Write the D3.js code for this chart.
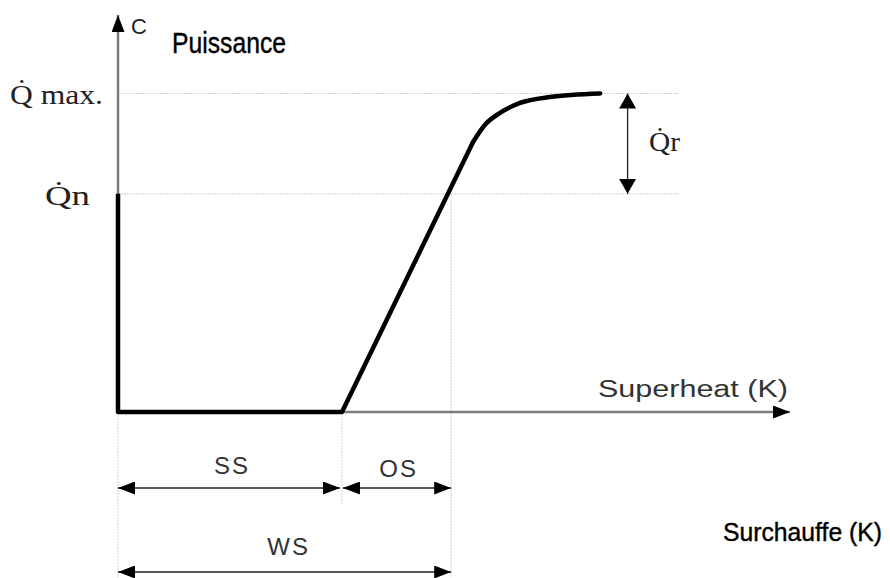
<!DOCTYPE html>
<html>
<head>
<meta charset="utf-8">
<script src="https://cdn.jsdelivr.net/npm/d3@7"></script>
<style>
  body { margin: 0; background: #fff; }
  svg { display: block; }
</style>
</head>
<body>
<div id="chart"></div>
<script>
// superheat (K) / capacity characteristic of an expansion valve
var rampX = [0, 0, 4.0, 6.34];
var rampY = [1, 0, 0, 1.238];
var kneeX = [6.34, 6.55, 6.82, 7.18, 7.71, 8.61];
var kneeY = [1.238, 1.316, 1.371, 1.417, 1.444, 1.46];

var qn = 1, qmax = 1.46;
var ss = 4.0, ws = 5.95;
var xMax = 12, yMax = 1.82;
var refEnd = 10, qrAt = 9.1;

var svg = d3.select("#chart").append("svg")
    .attr("width", 890)
    .attr("height", 578);

var x = d3.scaleLinear().domain([0, xMax]).range([118, 790]);
var y = d3.scaleLinear().domain([0, yMax]).range([412, 15]);

// arrowheads
var defs = svg.append("defs");
function head(id, w, h) {
    defs.append("marker")
        .attr("id", id)
        .attr("viewBox", "0 0 " + w + " " + h)
        .attr("refX", w).attr("refY", h / 2)
        .attr("markerWidth", w).attr("markerHeight", h)
        .attr("markerUnits", "userSpaceOnUse")
        .attr("orient", "auto-start-reverse")
        .append("path")
        .attr("d", "M0,0L" + w + "," + (h / 2) + "L0," + h + "Z")
        .attr("fill", "#000");
}
head("axisHead", 17, 13);
head("dimHead", 17, 13);
head("qrHead", 15, 17);

// dotted reference lines
var dot = svg.append("g")
    .attr("stroke", "#cfcfcf")
    .attr("stroke-width", 1)
    .attr("stroke-dasharray", "2,1");

[qmax, qn].forEach(function (v) {
    dot.append("line")
        .attr("x1", x(0)).attr("x2", x(refEnd))
        .attr("y1", y(v)).attr("y2", y(v));
});
dot.append("line").attr("x1", x(0)).attr("x2", x(0)).attr("y1", y(0)).attr("y2", 578);
dot.append("line").attr("x1", x(ss)).attr("x2", x(ss)).attr("y1", y(0)).attr("y2", 505);
dot.append("line").attr("x1", x(ws)).attr("x2", x(ws)).attr("y1", y(qn)).attr("y2", 578);

// axes
svg.append("line")
    .attr("x1", x(0)).attr("y1", y(0))
    .attr("x2", x(0)).attr("y2", y(yMax))
    .attr("stroke", "#7d7d7d").attr("stroke-width", 2.5)
    .attr("marker-end", "url(#axisHead)");
svg.append("line")
    .attr("x1", x(0)).attr("y1", y(0))
    .attr("x2", x(xMax)).attr("y2", y(0))
    .attr("stroke", "#7d7d7d").attr("stroke-width", 2.5)
    .attr("marker-end", "url(#axisHead)");

// characteristic curve
var lineLin = d3.line()
    .x(function (d) { return x(d[0]); })
    .y(function (d) { return y(d[1]); });
var lineSmooth = d3.line()
    .x(function (d) { return x(d[0]); })
    .y(function (d) { return y(d[1]); })
    .curve(d3.curveMonotoneX);

svg.append("path")
    .datum(d3.zip(rampX, rampY))
    .attr("d", lineLin)
    .attr("fill", "none").attr("stroke", "#000")
    .attr("stroke-width", 4.5).attr("stroke-linejoin", "round");
svg.append("path")
    .datum(d3.zip(kneeX, kneeY))
    .attr("d", lineSmooth)
    .attr("fill", "none").attr("stroke", "#000")
    .attr("stroke-width", 4.5).attr("stroke-linecap", "round");

// dimension arrows
function dim(x1, x2, yy) {
    svg.append("line")
        .attr("x1", x1).attr("x2", x2).attr("y1", yy).attr("y2", yy)
        .attr("stroke", "#222").attr("stroke-width", 1.3)
        .attr("marker-start", "url(#dimHead)")
        .attr("marker-end", "url(#dimHead)");
}
dim(x(0), x(ss) - 2, 488);
dim(x(ss) + 1, x(ws), 488);
dim(x(0), x(ws), 572);

svg.append("line")
    .attr("x1", x(qrAt)).attr("x2", x(qrAt))
    .attr("y1", y(qmax)).attr("y2", y(qn))
    .attr("stroke", "#222").attr("stroke-width", 1.3)
    .attr("marker-start", "url(#qrHead)")
    .attr("marker-end", "url(#qrHead)");

// texts
var sans = "'Liberation Sans', Arial, sans-serif";
var narrow = "'Liberation Sans Narrow', 'Arial Narrow', 'Liberation Sans', sans-serif";
var serif = "'Liberation Serif', 'Times New Roman', serif";

svg.append("text").text("C")
    .attr("x", 131).attr("y", 34)
    .attr("font-family", sans).attr("font-size", 22).attr("fill", "#222");

svg.append("text").text("Puissance")
    .attr("x", 172).attr("y", 53)
    .attr("font-family", narrow).attr("font-size", 29).attr("fill", "#000")
    .attr("stroke", "#000").attr("stroke-width", 0.4)
    .attr("textLength", 114).attr("lengthAdjust", "spacingAndGlyphs");

svg.append("text").text("Surchauffe (K)")
    .attr("x", 723).attr("y", 541)
    .attr("font-family", sans).attr("font-size", 25.5).attr("fill", "#000")
    .attr("stroke", "#000").attr("stroke-width", 0.4)
    .attr("textLength", 159).attr("lengthAdjust", "spacingAndGlyphs");

svg.append("text").text("Superheat (K)")
    .attr("x", 598).attr("y", 397)
    .attr("font-family", sans).attr("font-size", 23).attr("fill", "#333")
    .attr("textLength", 190).attr("lengthAdjust", "spacingAndGlyphs");

var serifText = svg.append("g")
    .attr("font-family", serif).attr("font-size", 27).attr("fill", "#222");
serifText.append("text").text("Q\u0307 max.")
    .attr("x", 10).attr("y", y(qmax) + 10)
    .attr("textLength", 93).attr("lengthAdjust", "spacingAndGlyphs");
serifText.append("text").text("Q\u0307n")
    .attr("x", 45).attr("y", y(qn) + 11)
    .attr("textLength", 45).attr("lengthAdjust", "spacingAndGlyphs");
serifText.append("text").text("Q\u0307r")
    .attr("x", 649).attr("y", 151)
    .attr("textLength", 31).attr("lengthAdjust", "spacingAndGlyphs");

var dimText = svg.append("g")
    .attr("font-family", sans).attr("font-size", 24).attr("fill", "#333")
    .attr("text-anchor", "middle").attr("letter-spacing", 2);
dimText.append("text").text("SS").attr("x", (x(0) + x(ss)) / 2 + 2).attr("y", 474);
dimText.append("text").text("OS").attr("x", (x(ss) + x(ws)) / 2 + 2).attr("y", 477);
dimText.append("text").text("WS").attr("x", (x(0) + x(ws)) / 2 + 4).attr("y", 555);
</script>
</body>
</html>
